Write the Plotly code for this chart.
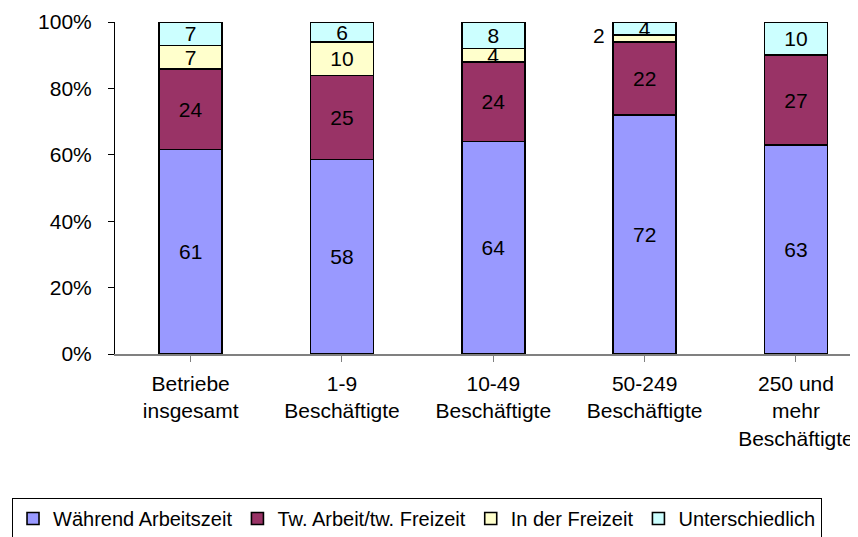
import plotly.graph_objects as go

categories = ["Betriebe<br>insgesamt", "1-9<br>Beschäftigte", "10-49<br>Beschäftigte",
              "50-249<br>Beschäftigte", "250 und<br>mehr<br>Beschäftigte"]
series_names = ["Während Arbeitszeit", "Tw. Arbeit/tw. Freizeit", "In der Freizeit", "Unterschiedlich"]
waehrend = [61, 58, 64, 72, 63]
teilweise = [24, 25, 24, 22, 27]
freizeit = [7, 10, 4, 2, 0]
unterschiedlich = [7, 6, 8, 4, 10]
colors = ["#9999FF", "#993366", "#FFFFCC", "#CCFFFF"]
ytick_vals = [0, 20, 40, 60, 80, 100]
ytick_text = ["0%", "20%", "40%", "60%", "80%", "100%"]

series = [waehrend, teilweise, freizeit, unterschiedlich]
FONT = "Liberation Sans, Arial, sans-serif"

fig = go.Figure()
x_idx = list(range(len(categories)))
for name, vals, col in zip(series_names, series, colors):
    labels = ["" if v <= 2 else str(v) for v in vals]
    fig.add_trace(go.Bar(
        x=x_idx, y=vals, name=name, width=0.415,
        marker=dict(color=col, line=dict(color="black", width=1.6)),
        text=labels, textposition="inside", insidetextanchor="middle",
        constraintext="none", textangle=0,
        textfont=dict(family=FONT, size=21, color="black"),
        hoverinfo="skip",
    ))

# small label "2" left of the 50-249 bar (position derived from data)
for i in range(len(categories)):
    v = freizeit[i]
    if 0 < v <= 2:
        total = waehrend[i] + teilweise[i] + freizeit[i] + unterschiedlich[i]
        mid = (waehrend[i] + teilweise[i] + v / 2) / total * 100
        fig.add_annotation(x=i, y=mid + 0.8, text=str(v), showarrow=False,
                           xshift=-46, font=dict(family=FONT, size=21, color="black"))

fig.update_layout(
    barmode="stack", barnorm="percent",
    width=850, height=529,
    margin=dict(l=107, r=0, t=14, b=183, autoexpand=False),
    paper_bgcolor="white", plot_bgcolor="white",
    font=dict(family=FONT, size=21, color="black"),
    showlegend=True,
    legend=dict(orientation="h", x=-0.1386, xanchor="left", y=-0.4337, yanchor="top",
                bordercolor="black", borderwidth=1, bgcolor="white",
                font=dict(family=FONT, size=20, color="black"),
                itemwidth=30, traceorder="normal"),
    xaxis=dict(range=[-0.5, 4.41], tickmode="array", tickvals=x_idx, ticktext=categories,
               tickson="boundaries", ticks="outside", ticklen=6, tickcolor="#808080",
               showline=True, linecolor="#808080", linewidth=1.5, showgrid=False,
               automargin=False, tickangle=0, zeroline=False, ticklabelstandoff=4,
               tickfont=dict(family=FONT, size=21, color="black")),
    yaxis=dict(range=[0, 100], tickmode="array", tickvals=ytick_vals, ticktext=ytick_text,
               ticks="outside", ticklen=6, tickcolor="black", showline=True, linecolor="black",
               linewidth=1, showgrid=False, zeroline=False, automargin=False,
               ticklabelstandoff=12,
               tickfont=dict(family=FONT, size=21, color="black")),
)

fig.write_html("out.html")
